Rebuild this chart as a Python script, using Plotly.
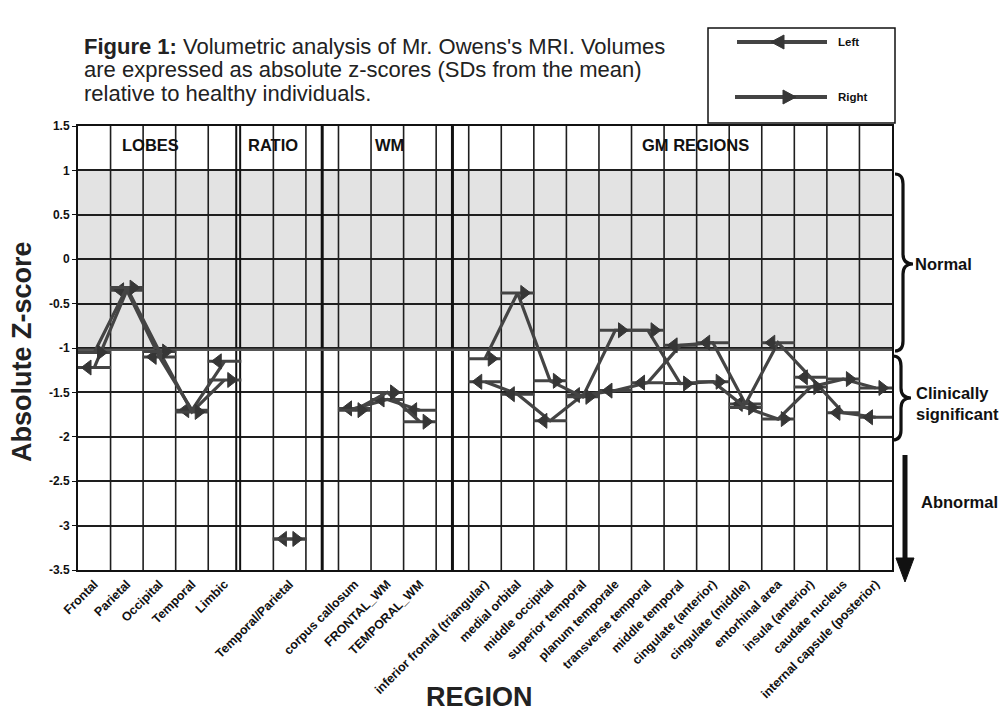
import plotly.graph_objects as go

# ---------------- data ----------------
lobes = ["Frontal", "Parietal", "Occipital", "Temporal", "Limbic"]
ratio = ["Temporal/Parietal"]
wm = ["corpus callosum", "FRONTAL_WM", "TEMPORAL_WM"]
gm = ["inferior frontal (triangular)", "medial orbital", "middle occipital",
      "superior temporal", "planum temporale", "transverse temporal",
      "middle temporal", "cingulate (anterior)", "cingulate (middle)",
      "entorhinal area", "insula (anterior)", "caudate nucleus",
      "internal capsule (posterior)"]

left_lobes = [-1.22, -0.35, -1.10, -1.70, -1.15]
right_lobes = [-1.05, -0.32, -1.04, -1.72, -1.36]
left_ratio = [-3.15]
right_ratio = [-3.15]
left_wm = [-1.68, -1.58, -1.70]
right_wm = [-1.70, -1.50, -1.83]
left_gm = [-1.38, -1.52, -1.82, -1.53, -1.48, -1.39, -0.97, -0.94, -1.63,
           -0.94, -1.33, -1.73, -1.78]
right_gm = [-1.12, -0.38, -1.37, -1.55, -0.80, -0.80, -1.40, -1.38, -1.67,
            -1.80, -1.44, -1.35, -1.45]

section_names = ["LOBES", "RATIO", "WM", "GM REGIONS"]
y_ticks = [1.5, 1, 0.5, 0, -0.5, -1, -1.5, -2, -2.5, -3, -3.5]

# ---------------- layout helpers ----------------
sections = [(lobes, left_lobes, right_lobes, 0),
            (ratio, left_ratio, right_ratio, 6),
            (wm, left_wm, right_wm, 8),
            (gm, left_gm, right_gm, 12)]

xs, yl, yr, tickpos, ticktxt = [], [], [], [], []
for cats, lv, rv, start in sections:
    for i, c in enumerate(cats):
        xs.append(start + i + 0.5)
        yl.append(lv[i])
        yr.append(rv[i])
        tickpos.append(start + i + 0.5)
        ticktxt.append(c)
    xs.append(None); yl.append(None); yr.append(None)

L, R, T, B = 78, 111, 126, 143
W, H = 1003, 713
PW, PH = W - L - R, H - T - B


def px(x):
    return (x - L) / PW


def py(y):
    return (H - B - y) / PH


LINE = "#444444"
HEAD = "#363636"
FONT = "Liberation Sans, Arial, Helvetica, sans-serif"

fig = go.Figure()

for yvals, sym, off, name in [(yl, "triangle-left", -0.2, "Left"),
                              (yr, "triangle-right", 0.2, "Right")]:
    fig.add_trace(go.Scatter(x=xs, y=yvals, mode="lines", name=name,
                             line=dict(color=LINE, width=3.2),
                             connectgaps=False, showlegend=False,
                             hoverinfo="skip"))
    fig.add_trace(go.Scatter(x=xs, y=yvals, mode="markers", showlegend=False,
                             marker=dict(symbol="line-ew", size=24,
                                         line=dict(color=LINE, width=3)),
                             hoverinfo="skip"))
    fig.add_trace(go.Scatter(x=[None if v is None else v + off for v in xs],
                             y=yvals, mode="markers", showlegend=False,
                             marker=dict(symbol=sym, size=13, color=HEAD,
                                         line=dict(color=HEAD, width=1)),
                             hoverinfo="skip"))

shapes = []
# normal band shading
shapes.append(dict(type="rect", xref="x", yref="y", x0=0, x1=25, y0=-1.03, y1=1,
                   fillcolor="#e3e3e3", line=dict(width=0), layer="below"))
# vertical grid lines
vgrid = [1, 2, 3, 4, 6, 7, 8, 9, 10, 11] + list(range(12, 25))
for v in vgrid:
    shapes.append(dict(type="line", xref="x", yref="y", x0=v, x1=v, y0=-3.5, y1=1.5,
                       line=dict(color="#1e1e1e", width=1.6), layer="between"))
for v, w in [(4.86, 2), (4.98, 2), (7.5, 3), (11.5, 3)]:
    shapes.append(dict(type="line", xref="x", yref="y", x0=v, x1=v, y0=-3.5, y1=1.5,
                       line=dict(color="#111", width=w), layer="between"))
# -1 boundary
shapes.append(dict(type="line", xref="x", yref="y", x0=0, x1=25, y0=-1.02, y1=-1.02,
                   line=dict(color="#555", width=2.5), layer="between"))


def brace(x0, xm, xt, y0, ym, y1):
    r = 10
    return (f"M {px(x0)},{py(y0)} Q {px(xm)},{py(y0)} {px(xm)},{py(y0 + r)} "
            f"L {px(xm)},{py(ym - r)} Q {px(xm)},{py(ym)} {px(xt)},{py(ym)} "
            f"Q {px(xm)},{py(ym)} {px(xm)},{py(ym + r)} "
            f"L {px(xm)},{py(y1 - r)} Q {px(xm)},{py(y1)} {px(x0)},{py(y1)}")


shapes.append(dict(type="path", xref="paper", yref="paper",
                   path=brace(895, 903, 913, 174, 264, 351),
                   line=dict(color="#111", width=3.2)))
shapes.append(dict(type="path", xref="paper", yref="paper",
                   path=brace(893, 901, 911, 356, 398, 440),
                   line=dict(color="#111", width=3.2)))
shapes.append(dict(type="line", xref="paper", yref="paper",
                   x0=px(905), x1=px(905), y0=py(455), y1=py(562),
                   line=dict(color="#111", width=5)))
shapes.append(dict(type="path", xref="paper", yref="paper",
                   path=f"M {px(896)},{py(558)} L {px(914)},{py(558)} L {px(905)},{py(582)} Z",
                   fillcolor="#111", line=dict(color="#111", width=1)))

# legend box
shapes.append(dict(type="rect", xref="paper", yref="paper",
                   x0=px(708), x1=px(895), y0=py(123), y1=py(28),
                   line=dict(color="#111", width=1.5), fillcolor="white"))
shapes.append(dict(type="line", xref="paper", yref="paper",
                   x0=px(737), x1=px(827), y0=py(42), y1=py(42),
                   line=dict(color=LINE, width=4)))
shapes.append(dict(type="path", xref="paper", yref="paper",
                   path=f"M {px(771)},{py(42)} L {px(784)},{py(35)} L {px(784)},{py(49)} Z",
                   fillcolor=HEAD, line=dict(color=HEAD, width=1)))
shapes.append(dict(type="line", xref="paper", yref="paper",
                   x0=px(735), x1=px(827), y0=py(97), y1=py(97),
                   line=dict(color=LINE, width=4)))
shapes.append(dict(type="path", xref="paper", yref="paper",
                   path=f"M {px(796)},{py(97)} L {px(783)},{py(90)} L {px(783)},{py(104)} Z",
                   fillcolor=HEAD, line=dict(color=HEAD, width=1)))

ann = []


def note(x, y, text, size, xanchor="center", xref="paper", yref="paper", **kw):
    ann.append(dict(x=x, y=y, xref=xref, yref=yref, text=text, showarrow=False,
                    xanchor=xanchor, yanchor="middle",
                    font=dict(size=size, color=kw.pop("color", "#111"), family=FONT),
                    **kw))


# section headers
for name, xc in zip(section_names, [2.24, 6.0, 9.57, 18.98]):
    note(xc, 1.29, f"<b>{name}</b>", 16.5, xref="x", yref="y")
# title
title_lines = ["<b>Figure 1:</b> Volumetric analysis of Mr. Owens's MRI. Volumes",
               "are expressed as absolute z-scores (SDs from the mean)",
               "relative to healthy individuals."]
for t, yy in zip(title_lines, [47, 70, 93]):
    note(px(82), py(yy), t, 22, xanchor="left", color="#222")
# legend texts
note(px(836), py(42), "<b>Left</b>", 11.5, xanchor="left")
note(px(836), py(97), "<b>Right</b>", 11.5, xanchor="left")
# right side labels
note(px(913), py(264), "<b>Normal</b>", 16.5, xanchor="left")
note(px(914), py(403), "<b>Clinically<br>significant</b>", 16.5, xanchor="left", align="left")
note(px(919), py(502), "<b>Abnormal</b>", 16.5, xanchor="left")
# axis titles
note(px(22), py(352), "<b>Absolute Z-score</b>", 27, textangle=-90, color="#222")
note(px(479), py(697), "<b>REGION</b>", 27, color="#222")

fig.update_layout(
    width=W, height=H,
    margin=dict(l=L, r=R, t=T, b=B, autoexpand=False),
    paper_bgcolor="white", plot_bgcolor="white",
    showlegend=False,
    shapes=shapes, annotations=ann,
    font=dict(family=FONT, color="#111"),
    xaxis=dict(range=[0, 25], tickvals=tickpos,
               ticktext=[f"<b>{t}</b>" for t in ticktxt],
               tickangle=-45, tickfont=dict(size=12.5, color="#111"),
               showgrid=False, zeroline=False, showline=True, mirror=True,
               linecolor="#111", linewidth=2, ticks="", fixedrange=True),
    yaxis=dict(range=[-3.5, 1.5], tickvals=y_ticks,
               ticktext=[f"<b>{('%g' % v)}</b>" for v in y_ticks],
               tickfont=dict(size=12, color="#111"),
               showgrid=True, gridcolor="#1e1e1e", gridwidth=1.6,
               zeroline=False, showline=True, mirror=True,
               linecolor="#111", linewidth=2, ticks="outside", ticklen=4,
               tickcolor="#111", fixedrange=True),
)

fig.write_html("out.html", config={"displayModeBar": False},
               post_script="document.body.style.margin='0';document.body.style.overflow='hidden';")
